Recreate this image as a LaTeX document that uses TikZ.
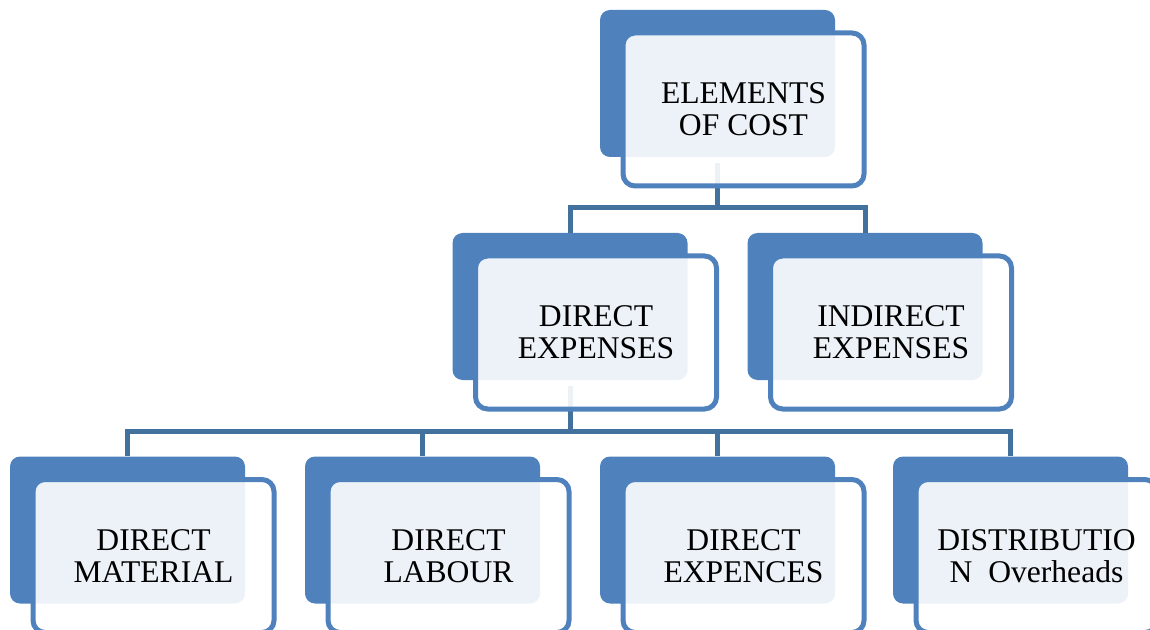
\documentclass[tikz,border=0pt]{standalone}
\usepackage{fontspec}
\setmainfont{Liberation Serif}
\usetikzlibrary{positioning}
\definecolor{boxblue}{HTML}{4F81BD}
\definecolor{lineblue}{HTML}{41719C}
\tikzset{back/.style={fill=boxblue,rounded corners=5pt,minimum width=117.5pt,minimum height=73.5pt,inner sep=0pt},
front/.style={draw=boxblue,line width=2.5pt,fill=white,fill opacity=0.9,text opacity=1,rounded corners=6pt,minimum width=120.5pt,minimum height=76.5pt,inner sep=0pt,align=center,font=\fontsize{15.8}{16}\selectfont},
conn/.style={draw=lineblue,line width=2.5pt}}
\begin{document}
\begin{tikzpicture}[x=0.5pt,y=-0.5pt]
\useasboundingbox (0,0) rectangle (1150,630);
\node[back] (costB) at (717.5,83.5) {};
\node[back] (dirB) at (570,306.5) {};
\node[back] (indB) at (865,306.5) {};
\node[back] (matB) at (127.5,530) {};
\node[back] (labB) at (422.5,530) {};
\node[back] (expB) at (717.5,530) {};
\node[back] (disB) at (1010.5,530) {};
\draw[conn] ([yshift=-3pt]costB.south) -- ++(0,44) -| (dirB.north);
\draw[conn] ([yshift=-3pt]costB.south) -- ++(0,44) -| (indB.north);
\draw[conn] ([yshift=-3pt]dirB.south) -- ++(0,45) -| (matB.north);
\draw[conn] ([yshift=-3pt]dirB.south) -- ++(0,45) -| (labB.north);
\draw[conn] ([yshift=-3pt]dirB.south) -- ++(0,45) -| (expB.north);
\draw[conn] ([yshift=-3pt]dirB.south) -- ++(0,45) -| (disB.north);
\node[front] (cost) at ([shift={(26,26)}]costB) {ELEMENTS\\OF COST};
\node[front] (dir) at ([shift={(26,26)}]dirB) {DIRECT\\EXPENSES};
\node[front] (ind) at ([shift={(26,26)}]indB) {INDIRECT\\EXPENSES};
\node[front] (mat) at ([shift={(26,26)}]matB) {DIRECT\\MATERIAL};
\node[front] (lab) at ([shift={(26,26)}]labB) {DIRECT\\LABOUR};
\node[front] (exp) at ([shift={(26,26)}]expB) {DIRECT\\EXPENCES};
\node[front] (dis) at ([shift={(26,26)}]disB) {DISTRIBUTIO\\N~~Overheads};
\end{tikzpicture}
\end{document}
